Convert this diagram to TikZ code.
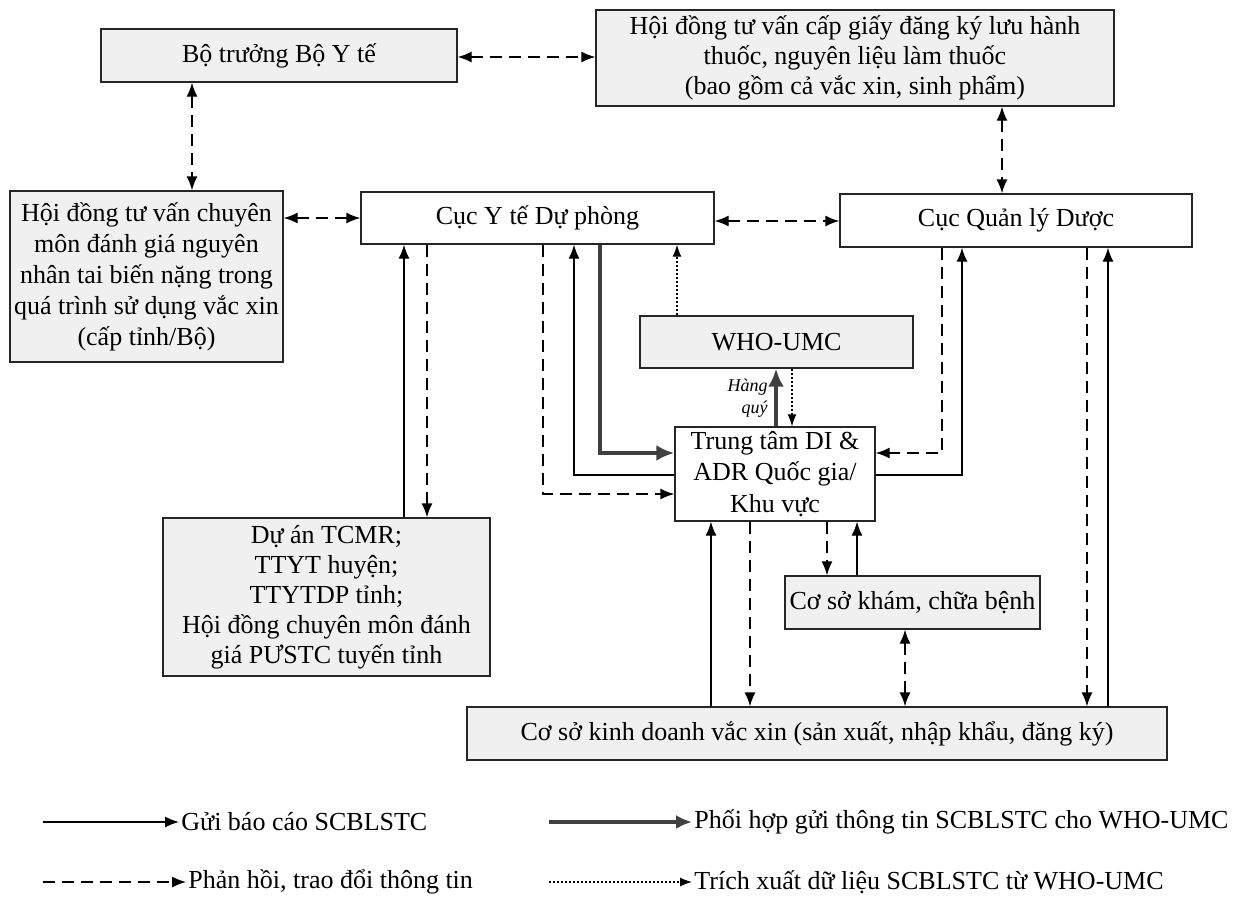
\documentclass[tikz,border=0pt]{standalone}
\usepackage{fontspec}
\setmainfont{Liberation Serif}
\usetikzlibrary{arrows.meta}
\begin{document}
\begin{tikzpicture}[x=0.5pt,y=-0.5pt,
  box/.style={draw=black!85,line width=0.7pt,fill=#1,inner sep=1pt,align=center,
    font=\fontsize{13}{15}\selectfont},
  box/.default=black!6,
  tip/.style={-{Latex[length=7pt,width=5.5pt]}},
  sarrow/.style={line width=0.7pt,tip},
  darrow/.style={line width=0.7pt,dash pattern=on 6pt off 3.5pt,tip},
  ddarrow/.style={line width=0.7pt,dash pattern=on 6pt off 3.5pt,{Latex[length=7pt,width=5.5pt]}-{Latex[length=7pt,width=5.5pt]}},
  tarrow/.style={line width=2.2pt,draw=black!75,-{Latex[length=9pt,width=8pt]}},
  parrow/.style={line width=0.6pt,dash pattern=on 1pt off 1pt,-{Latex[length=6pt,width=4.5pt]}},
  legtext/.style={anchor=west,inner sep=1pt,font=\fontsize{13}{15}\selectfont}
]
\useasboundingbox (0,0) rectangle (1239,901);
\fill[white] (0,0) rectangle (1239,901);

% boxes
\node[box,minimum width=178pt,minimum height=26.5pt] (bt) at (279,55.5) {Bộ trưởng Bộ Y tế};
\node[box,minimum width=259pt,minimum height=48pt] (hdcg) at (855,58)
  {Hội đồng tư vấn cấp giấy đăng ký lưu hành\\thuốc, nguyên liệu làm thuốc\\(bao gồm cả vắc xin, sinh phẩm)};
\node[box,minimum width=136.5pt,minimum height=85.5pt,font=\fontsize{13}{15.5}\selectfont] (hdcm) at (146.5,276.5)
  {Hội đồng tư vấn chuyên\\môn đánh giá nguyên\\nhân tai biến nặng trong\\quá trình sử dụng vắc xin\\(cấp tỉnh/Bộ)};
\node[box=white,minimum width=176.5pt,minimum height=26pt] (cyt) at (537.5,218) {Cục Y tế Dự phòng};
\node[box=white,minimum width=176pt,minimum height=26.5pt] (cqld) at (1016,220.5) {Cục Quản lý Dược};
\node[box,minimum width=136.5pt,minimum height=26pt] (who) at (776.5,342) {WHO-UMC};
\node[box=white,minimum width=100pt,minimum height=47pt,font=\fontsize{13}{15.8}\selectfont] (tt) at (775,474)
  {Trung tâm DI \&\\ADR Quốc gia/\\Khu vực};
\node[box,minimum width=163.5pt,minimum height=79pt] (tcmr) at (326.5,597)
  {Dự án TCMR;\\TTYT huyện;\\TTYTDP tỉnh;\\Hội đồng chuyên môn đánh\\giá PƯSTC tuyến tỉnh};
\node[box,minimum width=127.5pt,minimum height=26.5pt] (csk) at (912.5,602.5) {Cơ sở khám, chữa bệnh};
\node[box,minimum width=350pt,minimum height=26.5pt] (cskd) at (817,733.5)
  {Cơ sở kinh doanh vắc xin (sản xuất, nhập khẩu, đăng ký)};

% positions of connectors
\coordinate (x192) at (192,0);
\coordinate (x1002) at (1002,0);
\coordinate (x404) at (404,0);
\coordinate (x427) at (427,0);
\coordinate (x543) at (543,0);
\coordinate (x574) at (574,0);
\coordinate (x600) at (600,0);
\coordinate (x677) at (677,0);
\coordinate (x776) at (776,0);
\coordinate (x792) at (792,0);
\coordinate (x942) at (942,0);
\coordinate (x962) at (962,0);
\coordinate (x1087) at (1087,0);
\coordinate (x1108) at (1108,0);
\coordinate (x711) at (711,0);
\coordinate (x750) at (750,0);
\coordinate (x827) at (827,0);
\coordinate (x857) at (857,0);
\coordinate (x905) at (905,0);
\coordinate (y453) at (0,453);
\coordinate (y475) at (0,475);
\coordinate (y494) at (0,494);
\coordinate (y57) at (0,57);
\coordinate (y218) at (0,218);
\coordinate (y221) at (0,221);

% top level dashed links
\draw[ddarrow] (bt.east |- y57) -- (hdcg.west |- y57);
\draw[ddarrow] (bt.south -| x192) -- (hdcm.north -| x192);
\draw[ddarrow] (hdcg.south -| x1002) -- (cqld.north -| x1002);
\draw[ddarrow] (hdcm.east |- y218) -- (cyt.west |- y218);
\draw[ddarrow] (cyt.east |- y221) -- (cqld.west |- y221);

% Cuc YTDP <-> TCMR
\draw[sarrow] (tcmr.north -| x404) -- (cyt.south -| x404);
\draw[darrow] (cyt.south -| x427) -- (tcmr.north -| x427);

% Cuc YTDP <-> Trung tam
\draw[darrow] (cyt.south -| x543) |- (tt.west |- y494);
\draw[sarrow] (tt.west |- y475) -| (cyt.south -| x574);
\draw[tarrow] (cyt.south -| x600) |- (tt.west |- y453);

% WHO-UMC
\draw[parrow] (who.north -| x677) -- (cyt.south -| x677);
\draw[tarrow] (tt.north -| x776) -- (who.south -| x776);
\draw[parrow] (who.south -| x792) -- (tt.north -| x792);
\node[anchor=east,inner sep=0pt,align=right,font=\fontsize{9}{11}\selectfont\itshape] (hq) at (768,398) {Hàng\\quý};

% Cuc QLD <-> Trung tam
\draw[darrow] (cqld.south -| x942) |- (tt.east |- y453);
\draw[sarrow] (tt.east |- y475) -| (cqld.south -| x962);

% Cuc QLD <-> Co so kinh doanh
\draw[darrow] (cqld.south -| x1087) -- (cskd.north -| x1087);
\draw[sarrow] (cskd.north -| x1108) -- (cqld.south -| x1108);

% Trung tam <-> Co so kinh doanh / kham
\draw[sarrow] (cskd.north -| x711) -- (tt.south -| x711);
\draw[darrow] (tt.south -| x750) -- (cskd.north -| x750);
\draw[darrow] (tt.south -| x827) -- (csk.north -| x827);
\draw[sarrow] (csk.north -| x857) -- (tt.south -| x857);
\draw[ddarrow] (csk.south -| x905) -- (cskd.north -| x905);

% legend
\node[legtext] (l1) at (179,822) {Gửi báo cáo SCBLSTC};
\node[legtext] (l2) at (186,882) {Phản hồi, trao đổi thông tin};
\node[legtext] (l3) at (692,822) {Phối hợp gửi thông tin SCBLSTC cho WHO-UMC};
\node[legtext] (l4) at (692,882) {Trích xuất dữ liệu SCBLSTC từ WHO-UMC};
\coordinate (s1) at (43,822);
\coordinate (s2) at (43,882);
\coordinate (s3) at (549,822);
\coordinate (s4) at (549,882);
\draw[sarrow] (s1) -- (l1.west);
\draw[darrow] (s2) -- (l2.west);
\draw[tarrow,-{Latex[length=8pt,width=7pt]}] (s3) -- (l3.west);
\draw[parrow] (s4) -- (l4.west);
\end{tikzpicture}
\end{document}
